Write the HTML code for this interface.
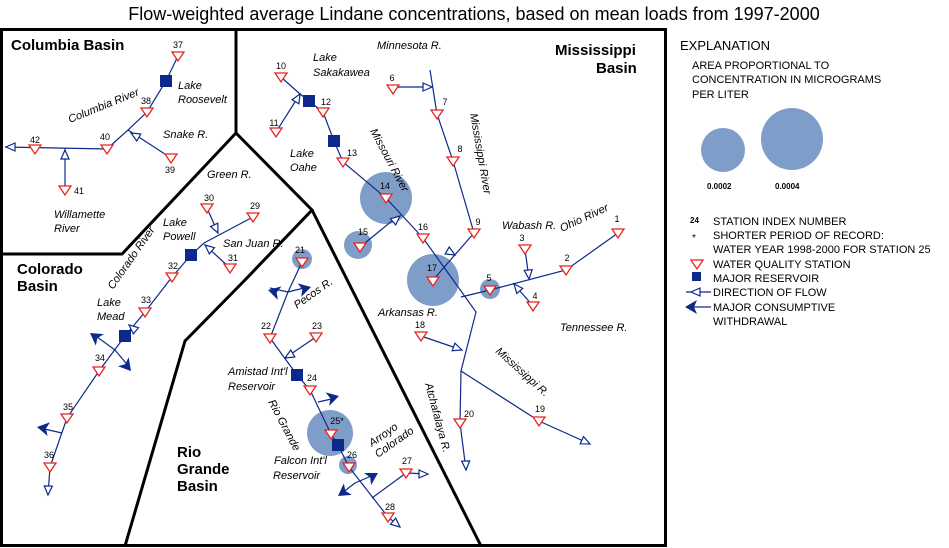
<!DOCTYPE html>
<html><head><meta charset="utf-8"><style>
html,body{margin:0;padding:0;background:#fff}
svg{display:block;font-family:"Liberation Sans",Arial,sans-serif}
.r{stroke:#0d2a8a;stroke-width:1.2;fill:none}
.n{font-size:9px;fill:#000}
.i{font-size:11px;font-style:italic;fill:#000}
.b{font-size:15px;font-weight:bold;fill:#000}
.l{font-size:11px;fill:#000}
</style></head><body>
<svg width="949" height="548" viewBox="0 0 949 548" xmlns="http://www.w3.org/2000/svg">
<defs>
<symbol id="t" overflow="visible"><path d="M-6,-4 L6,-4 L0,5 Z" fill="#fff" stroke="#e8231d" stroke-width="1.3"/></symbol>
<symbol id="a" overflow="visible"><path d="M0,0 L-9,-4 L-9,4 Z" fill="#fff" stroke="#0d2a8a" stroke-width="1.2"/></symbol>
<symbol id="w" overflow="visible"><path d="M0,0 L-12,-7 L-9,0 L-12,7 Z" fill="#0d2a8a"/></symbol>
</defs>
<text x="474" y="20" text-anchor="middle" font-size="18">Flow-weighted average Lindane concentrations, based on mean loads from 1997-2000</text>
<rect x="1.5" y="29.5" width="664" height="516" fill="none" stroke="#000" stroke-width="3"/>
<g stroke="#000" stroke-width="3" fill="none">
<path d="M236,29 L236,133 L312,210 L245,280 L185,341 L125,546"/>
<path d="M236,133 L122,254 L0,254"/>
<path d="M312,210 L481,546"/>
</g>
<!-- circles -->
<g fill="#7f9dc9">
<circle cx="386" cy="198" r="26"/><circle cx="358" cy="245" r="14"/><circle cx="433" cy="280" r="26"/>
<circle cx="490" cy="289" r="10"/><circle cx="302" cy="259" r="10"/><circle cx="330" cy="433" r="23"/>
<circle cx="348" cy="465" r="9"/>
<circle cx="723" cy="150" r="22"/><circle cx="792" cy="139" r="31"/>
</g>
<!-- rivers -->
<g class="r">
<path d="M178,56 L166,81 L147,112 L128,130 L107,149 L5,147"/>
<path d="M171,158 L128,130"/><path d="M65,190 L65,148"/>
<path d="M281,77 L300,94 L309,101 L323,112 L334,141 L343,162 L386,198 L423,238 L461,291 L476,312 L461,371 L460,423 L466,470"/>
<path d="M276,132 L300,94"/>
<path d="M430,70 L437,114 L453,161 L474,233 L433,280"/>
<path d="M393,87 L432,87"/>
<path d="M360,247 L398,216"/>
<path d="M461,297 L490,290 L566,270 L618,233"/>
<path d="M525,249 L529,279"/><path d="M533,306 L513,283"/>
<path d="M421,336 L462,350"/>
<path d="M461,371 L539,421 L590,444"/>
<path d="M207,208 L218,233"/><path d="M253,217 L204,243 L191,255 L172,277 L145,312 L125,336 L99,371 L67,418 L50,467 L48,495"/>
<path d="M230,268 L205,245"/>
<path d="M115,350 L93,334"/><path d="M115,350 L130,368"/><path d="M62,433 L40,428"/>
<path d="M302,262 L288,292 L270,338 L297,375 L310,390 L331,434 L338,445 L349,467 L388,517 L400,527"/>
<path d="M288,292 L270,288"/><path d="M288,292 L308,287"/>
<path d="M285,358 L316,337"/>
<path d="M318,402 L336,398"/>
<path d="M355,483 L376,474"/><path d="M355,483 L342,493"/>
<path d="M372,498 L406,473 L428,474"/>
</g>
<!-- flow arrows -->
<g>
<use href="#a" transform="translate(6,147) rotate(180)"/>
<use href="#a" transform="translate(65,150) rotate(-90)"/>
<use href="#a" transform="translate(131,133) rotate(-150)"/>
<use href="#a" transform="translate(300,94) rotate(-60)"/>
<use href="#a" transform="translate(432,87)"/>
<use href="#a" transform="translate(400,216) rotate(-40)"/>
<use href="#a" transform="translate(455,255) rotate(30)"/>
<use href="#a" transform="translate(529,279) rotate(85)"/>
<use href="#a" transform="translate(514,284) rotate(-130)"/>
<use href="#a" transform="translate(462,350) rotate(20)"/>
<use href="#a" transform="translate(590,444) rotate(25)"/>
<use href="#a" transform="translate(466,470) rotate(88)"/>
<use href="#a" transform="translate(218,233) rotate(65)"/>
<use href="#a" transform="translate(205,245) rotate(-140)"/>
<use href="#a" transform="translate(129,325) rotate(-140)"/>
<use href="#a" transform="translate(48,495) rotate(92)"/>
<use href="#a" transform="translate(285,358) rotate(150)"/>
<use href="#a" transform="translate(428,474)"/>
<use href="#a" transform="translate(400,527) rotate(40)"/>
<use href="#w" transform="translate(90,333) rotate(-145)"/>
<use href="#w" transform="translate(131,371) rotate(50)"/>
<use href="#w" transform="translate(37,427) rotate(-170)"/>
<use href="#w" transform="translate(268,290) rotate(-165)"/>
<use href="#w" transform="translate(311,287) rotate(-15)"/>
<use href="#w" transform="translate(339,396) rotate(-15)"/>
<use href="#w" transform="translate(378,473) rotate(-30)"/>
<use href="#w" transform="translate(338,496) rotate(145)"/>
</g>
<!-- reservoirs -->
<g fill="#0d2a8a">
<rect x="160" y="75" width="12" height="12"/><rect x="303" y="95" width="12" height="12"/>
<rect x="328" y="135" width="12" height="12"/><rect x="185" y="249" width="12" height="12"/>
<rect x="119" y="330" width="12" height="12"/><rect x="291" y="369" width="12" height="12"/>
<rect x="332" y="439" width="12" height="12"/>
<rect x="692" y="272" width="9" height="9"/>
</g>
<!-- stations -->
<g>
<use href="#t" x="178" y="56"/><use href="#t" x="147" y="112"/><use href="#t" x="107" y="149"/>
<use href="#t" x="35" y="149"/><use href="#t" x="65" y="190"/><use href="#t" x="171" y="158"/>
<use href="#t" x="281" y="77"/><use href="#t" x="276" y="132"/><use href="#t" x="323" y="112"/>
<use href="#t" x="343" y="162"/><use href="#t" x="386" y="198"/><use href="#t" x="360" y="247"/>
<use href="#t" x="423" y="238"/><use href="#t" x="433" y="281"/><use href="#t" x="474" y="233"/>
<use href="#t" x="453" y="161"/><use href="#t" x="437" y="114"/><use href="#t" x="393" y="89"/>
<use href="#t" x="525" y="249"/><use href="#t" x="566" y="270"/><use href="#t" x="618" y="233"/>
<use href="#t" x="490" y="290"/><use href="#t" x="533" y="306"/><use href="#t" x="421" y="336"/>
<use href="#t" x="539" y="421"/><use href="#t" x="460" y="423"/>
<use href="#t" x="207" y="208"/><use href="#t" x="253" y="217"/><use href="#t" x="230" y="268"/>
<use href="#t" x="172" y="277"/><use href="#t" x="145" y="312"/><use href="#t" x="99" y="371"/>
<use href="#t" x="67" y="418"/><use href="#t" x="50" y="467"/>
<use href="#t" x="302" y="262"/><use href="#t" x="270" y="338"/><use href="#t" x="316" y="337"/>
<use href="#t" x="310" y="390"/><use href="#t" x="331" y="434"/><use href="#t" x="349" y="467"/>
<use href="#t" x="406" y="473"/><use href="#t" x="388" y="517"/>
<use href="#t" x="697" y="264"/>
</g>
<!-- numbers -->
<g class="n" text-anchor="middle">
<text x="178" y="48">37</text><text x="146" y="104">38</text><text x="105" y="140">40</text>
<text x="35" y="143">42</text><text x="79" y="194">41</text><text x="170" y="173">39</text>
<text x="281" y="69">10</text><text x="274" y="126">11</text><text x="326" y="105">12</text>
<text x="352" y="156">13</text><text x="385" y="189">14</text><text x="363" y="235">15</text>
<text x="423" y="230">16</text><text x="432" y="271">17</text><text x="478" y="225">9</text>
<text x="460" y="152">8</text><text x="445" y="105">7</text><text x="392" y="81">6</text>
<text x="522" y="241">3</text><text x="567" y="261">2</text><text x="617" y="222">1</text>
<text x="489" y="281">5</text><text x="535" y="299">4</text><text x="420" y="328">18</text>
<text x="540" y="412">19</text><text x="469" y="417">20</text>
<text x="209" y="201">30</text><text x="255" y="209">29</text><text x="233" y="261">31</text>
<text x="173" y="269">32</text><text x="146" y="303">33</text><text x="100" y="361">34</text>
<text x="68" y="410">35</text><text x="49" y="458">36</text>
<text x="300" y="253">21</text><text x="266" y="329">22</text><text x="317" y="329">23</text>
<text x="312" y="381">24</text><text x="337" y="424">25*</text><text x="352" y="458">26</text>
<text x="407" y="464">27</text><text x="390" y="510">28</text>
</g>
<!-- basin titles -->
<g class="b">
<text x="11" y="50">Columbia Basin</text>
<text x="555" y="55">Mississippi</text><text x="596" y="73">Basin</text>
<text x="17" y="274">Colorado</text><text x="17" y="291">Basin</text>
<text x="177" y="457">Rio</text><text x="177" y="474">Grande</text><text x="177" y="491">Basin</text>
</g>
<!-- italic labels -->
<g class="i">
<text x="178" y="89">Lake</text><text x="178" y="103">Roosevelt</text>
<text x="163" y="138">Snake R.</text>
<text x="54" y="218">Willamette</text><text x="54" y="232">River</text>
<text transform="translate(70,123) rotate(-22)">Columbia River</text>
<text x="313" y="61">Lake</text><text x="313" y="76">Sakakawea</text>
<text x="290" y="157">Lake</text><text x="290" y="171">Oahe</text>
<text x="377" y="49">Minnesota R.</text>
<text transform="translate(370,131) rotate(62)">Missouri River</text>
<text transform="translate(470,114) rotate(80)">Mississippi River</text>
<text x="502" y="229">Wabash R.</text>
<text transform="translate(562,232) rotate(-25)">Ohio River</text>
<text x="560" y="331">Tennessee R.</text>
<text transform="translate(495,352) rotate(42)">Mississippi R.</text>
<text x="378" y="316">Arkansas R.</text>
<text transform="translate(425,384) rotate(75)">Atchafalaya R.</text>
<text x="207" y="178">Green R.</text>
<text x="163" y="226">Lake</text><text x="163" y="240">Powell</text>
<text x="223" y="247">San Juan R.</text>
<text transform="translate(113,290) rotate(-55)">Colorado River</text>
<text x="97" y="306">Lake</text><text x="97" y="320">Mead</text>
<text transform="translate(297,309) rotate(-35)">Pecos R.</text>
<text x="228" y="375">Amistad Int'l</text><text x="228" y="390">Reservoir</text>
<text transform="translate(268,402) rotate(62)">Rio Grande</text>
<text x="274" y="464">Falcon Int'l</text><text x="273" y="479">Reservoir</text>
<text transform="translate(372,447) rotate(-35)">Arroyo</text>
<text transform="translate(378,458) rotate(-35)">Colorado</text>
</g>
<!-- legend -->
<text x="680" y="50" font-size="13">EXPLANATION</text>
<g class="l">
<text x="692" y="69">AREA PROPORTIONAL TO</text>
<text x="692" y="83">CONCENTRATION IN MICROGRAMS</text>
<text x="692" y="98">PER LITER</text>
<text x="713" y="225">STATION INDEX NUMBER</text>
<text x="713" y="239">SHORTER PERIOD OF RECORD:</text>
<text x="713" y="253">WATER YEAR 1998-2000 FOR STATION 25</text>
<text x="713" y="268">WATER QUALITY STATION</text>
<text x="713" y="282">MAJOR RESERVOIR</text>
<text x="713" y="296">DIRECTION OF FLOW</text>
<text x="713" y="311">MAJOR CONSUMPTIVE</text>
<text x="713" y="325">WITHDRAWAL</text>
</g>
<text x="707" y="189" font-size="8" font-weight="bold">0.0002</text>
<text x="775" y="189" font-size="8" font-weight="bold">0.0004</text>
<text x="690" y="223" font-size="8" font-weight="bold">24</text>
<text x="692" y="241" font-size="10">*</text>
<path d="M686,292 L711,292" class="r"/><use href="#a" transform="translate(691,292) rotate(180)" />
<path d="M690,307 L711,307" class="r"/><use href="#w" transform="translate(685,307) rotate(180)"/>
</svg>
</body></html>
